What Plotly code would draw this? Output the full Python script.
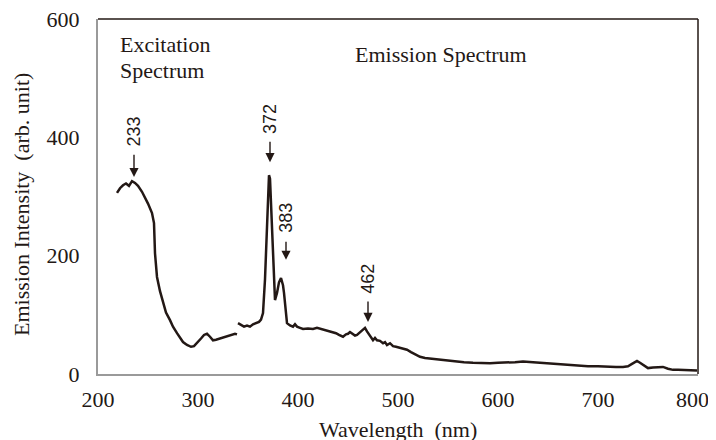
import plotly.graph_objects as go

# Excitation spectrum
exc_nm = [219, 222, 225, 228, 231, 234, 237, 240, 244, 247, 250, 254, 256, 257, 259,
          262, 265, 268, 272, 275, 279, 282, 285, 289, 293, 296, 299, 303, 306, 309,
          312, 315, 318, 322, 326, 329, 333, 337, 339]
exc_int = [306, 314, 319, 322, 318, 326, 323, 318, 308, 299, 288, 272, 255, 204, 164,
           140, 120, 104, 91, 80, 69, 61, 54, 49, 46, 47, 52, 60, 66, 68,
           63, 57, 58, 60, 62, 63, 66, 68, 67]

# Emission spectrum
em_nm = [340, 343, 346, 349, 352, 355, 358, 361, 363, 365, 367, 369, 371, 372, 374,
         376, 377, 379, 381, 383, 385, 386, 388, 389, 392, 395, 397, 399, 402, 405,
         410, 415, 419, 423, 427, 431, 435, 438, 441, 443, 445, 448, 450, 452, 455,
         457, 459, 462, 465, 467, 469, 472, 475, 477, 479, 482, 485, 487, 489, 492,
         495, 498, 502, 505, 509, 513, 518, 522, 527, 532, 537, 542, 550, 558, 566,
         575, 583, 592, 600, 609, 617, 625, 629, 635, 642, 650, 659, 670, 680, 690,
         700, 709, 718, 725, 730, 734, 737, 739, 742, 746, 750, 755, 760, 765, 770,
         775, 780, 790, 799]
em_int = [86, 83, 80, 82, 80, 84, 86, 88, 92, 103, 160, 249, 336, 330, 249,
          160, 125, 137, 155, 162, 150, 137, 100, 86, 82, 80, 84, 80, 78, 76,
          77, 76, 78, 76, 75, 73, 71, 69, 66, 64, 63, 67, 68, 71, 68,
          65, 66, 70, 74, 78, 72, 65, 57, 61, 57, 56, 52, 54, 49, 52,
          47, 46, 44, 42, 41, 37, 33, 29, 27, 26, 25, 24, 23, 21, 20,
          19, 18, 18, 19, 19, 20, 21, 21, 20, 19, 18, 17, 15, 14, 13,
          13, 12, 12, 12, 13, 17, 20, 22, 19, 14, 10, 11, 12, 12, 9,
          7, 7, 6, 6]

# Axis ticks (last x label is nudged left as in the original)
x_ticks = [200, 300, 400, 500, 600, 700, 800]
x_tick_text = ["200", "300", "400", "500", "600", "700", "800\u00a0\u00a0"]
y_ticks = [0, 200, 400, 600]

# Peak labels: text, x, label centre, arrow top, arrow tip (data units)
peak_labels = ["233", "372", "383", "462"]
peak_x = [236, 372, 388, 470]
peak_text_y = [410, 431, 264, 161]
peak_arrow_top = [373, 395, 226, 125]
peak_arrow_tip = [333, 358, 193, 88]

SERIF = "Liberation Serif"
SANS = "Liberation Sans"
LINE = "#231815"

fig = go.Figure()
fig.add_trace(go.Scatter(x=exc_nm, y=exc_int, mode="lines",
                         line=dict(color=LINE, width=2.5), showlegend=False))
fig.add_trace(go.Scatter(x=em_nm, y=em_int, mode="lines",
                         line=dict(color=LINE, width=2.5), showlegend=False))

for txt, px, ty, top, tip in zip(peak_labels, peak_x, peak_text_y,
                                 peak_arrow_top, peak_arrow_tip):
    fig.add_annotation(x=px, y=tip, ax=px, ay=top, axref="x", ayref="y",
                       text="", showarrow=True, arrowhead=2, arrowsize=1.3,
                       arrowwidth=1.4, arrowcolor=LINE)
    fig.add_annotation(x=px, y=ty, text=txt, textangle=-90, showarrow=False,
                       xanchor="center", yanchor="middle",
                       font=dict(family=SANS, size=18, color=LINE))

# panel captions
fig.add_annotation(x=0.0333, y=0.927, xref="paper", yref="paper", showarrow=False,
                   text="Excitation", xanchor="left", yanchor="middle",
                   font=dict(family=SERIF, size=22, color=LINE))
fig.add_annotation(x=0.0333, y=0.856, xref="paper", yref="paper", showarrow=False,
                   text="Spectrum", xanchor="left", yanchor="middle",
                   font=dict(family=SERIF, size=22, color=LINE))
fig.add_annotation(x=0.425, y=0.899, xref="paper", yref="paper", showarrow=False,
                   text="Emission Spectrum", xanchor="left", yanchor="middle",
                   font=dict(family=SERIF, size=22, color=LINE))

# axis titles
fig.add_annotation(x=0.5, y=0, xref="paper", yref="paper", yshift=-55,
                   showarrow=False, text="Wavelength\u00a0\u00a0(nm)",
                   xanchor="center", yanchor="middle",
                   font=dict(family=SERIF, size=22, color=LINE))
fig.add_annotation(x=0, y=0.476, xref="paper", yref="paper", xshift=-77,
                   showarrow=False, text="Emission Intensity\u00a0\u00a0(arb. unit)",
                   textangle=-90, xanchor="center", yanchor="middle",
                   font=dict(family=SERIF, size=22, color=LINE))

# dark top/right frame, grey left/bottom axes
fig.add_shape(type="line", xref="paper", yref="paper", x0=0, x1=1, y0=1, y1=1,
              line=dict(color=LINE, width=1.5))
fig.add_shape(type="line", xref="paper", yref="paper", x0=1, x1=1, y0=0, y1=1,
              line=dict(color=LINE, width=1.5))

# the page body has an 8px margin, so the figure is made smaller than the window
fig.update_layout(
    width=708, height=432,
    margin=dict(l=90, r=18, t=11, b=66),
    plot_bgcolor="white", paper_bgcolor="white",
    font=dict(family=SERIF, size=22, color=LINE),
    xaxis=dict(range=[200, 800], tickvals=x_ticks, ticktext=x_tick_text,
               showgrid=False, zeroline=False, showline=True, linecolor="#9a9a9a",
               linewidth=2, ticks="", ticklabelstandoff=5, automargin=False,
               ticklabeloverflow="allow"),
    yaxis=dict(range=[0, 600], tickvals=y_ticks,
               showgrid=False, zeroline=False, showline=True, linecolor="#9a9a9a",
               linewidth=2, ticks="", ticklabelstandoff=12, automargin=False,
               ticklabeloverflow="allow"),
)

fig.write_html("out.html")
